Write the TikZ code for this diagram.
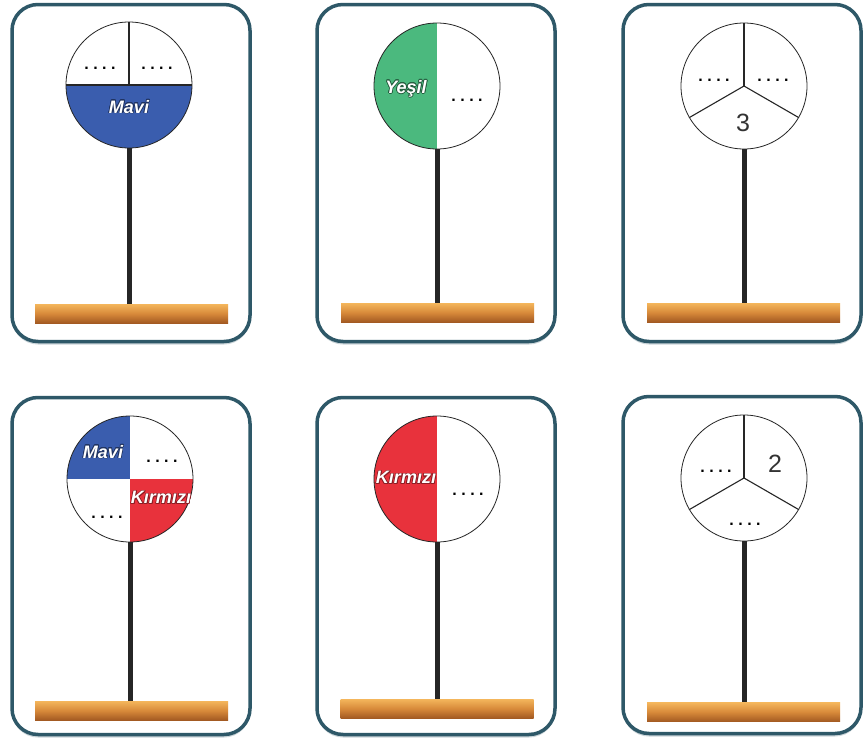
\documentclass[tikz,border=0pt]{standalone}
\usepackage{fontspec}
\setmainfont{Liberation Sans}
\usepackage{contour}
\contourlength{0.7pt}
\usetikzlibrary{shadows}

\definecolor{cardline}{HTML}{2E5868}
\definecolor{mavi}{HTML}{3A5DAE}
\definecolor{yesil}{HTML}{4BB97E}
\definecolor{kirmizi}{HTML}{E8323C}
\definecolor{woodtop}{HTML}{F4B65C}
\definecolor{woodmid}{HTML}{D88A3A}
\definecolor{woodbot}{HTML}{A35A22}

\newcommand{\blanks}{.\hspace{4.5pt}.\hspace{4.5pt}.\hspace{4.5pt}.}

\begin{document}
\begin{tikzpicture}[
    x=1pt, y=-1pt,
    card/.style={draw=cardline, line width=3.5pt, rounded corners=26pt, fill=white, minimum width=238pt, minimum height=337pt,
        drop shadow={shadow xshift=0pt, shadow yshift=-3pt, fill=cardline!25, opacity=1}},
    disc/.style={circle, draw=black!85, line width=0.8pt, fill=white, minimum size=126pt, inner sep=0pt},
    split/.style={draw=black!85, line width=1.1pt},
    pole/.style={draw=black!85, line width=5pt},
    stand/.style={rectangle, inner sep=0pt, minimum width=193pt, minimum height=19pt, top color=woodtop, bottom color=woodbot, middle color=woodmid},
    colour/.style={font=\bfseries\itshape\fontsize{18}{18}\selectfont, text=white, inner sep=0pt},
    blank/.style={font=\bfseries\fontsize{16}{16}\selectfont, anchor=base, inner sep=0pt},
    count/.style={font=\fontsize{25}{25}\selectfont, text=black!80, inner sep=0pt}
]
\fill[white] (0,0) rectangle (865,744);
\useasboundingbox (0,0) rectangle (865,744);

% --------------------------------------------------------------------------
% Cards
% --------------------------------------------------------------------------
\node[card] (card1) at (131,173) {};
\node[card] (card2) at (436,173) {};
\node[card] (card3) at (742,173) {};
\node[card] (card4) at (131,566) {};
\node[card] (card5) at (436,566) {};
\node[card] (card6) at (742,565) {};

% --------------------------------------------------------------------------
% Discs
% --------------------------------------------------------------------------
\node[disc, path picture={\fill[mavi] (path picture bounding box.west) rectangle (path picture bounding box.south east);}] (disc1) at (129,85) {};
\draw[split] (disc1.north) -- (disc1.center);
\draw[split] (disc1.west) -- (disc1.east);

\node[disc, path picture={\fill[yesil] (path picture bounding box.north west) rectangle (path picture bounding box.south);}] (disc2) at (437,86) {};

\node[disc] (disc3) at (744,86) {};
\draw[split] (disc3.center) -- (disc3.90);
\draw[split] (disc3.center) -- (disc3.210);
\draw[split] (disc3.center) -- (disc3.330);

\node[disc, path picture={
    \fill[mavi] (path picture bounding box.north west) rectangle (path picture bounding box.center);
    \fill[kirmizi] (path picture bounding box.center) rectangle (path picture bounding box.south east);}] (disc4) at (130,479) {};

\node[disc, path picture={\fill[kirmizi] (path picture bounding box.north west) rectangle (path picture bounding box.south);}] (disc5) at (437,479) {};

\node[disc] (disc6) at (744,478) {};
\draw[split] (disc6.center) -- (disc6.90);
\draw[split] (disc6.center) -- (disc6.210);
\draw[split] (disc6.center) -- (disc6.330);

% Texts on the discs
\node[blank] (b1a) at (100,69) {\blanks};
\node[blank] (b1b) at (157,69) {\blanks};
\node[colour] (c1) at (129,107) {\contour{mavi!55!black}{Mavi}};

\node[colour] (c2) at (406,89) {\contour{yesil!50!black}{Yeşil}};
\node[blank] (b2) at (467,101) {\blanks};

\node[blank] (b3a) at (714,81) {\blanks};
\node[blank] (b3b) at (773,81) {\blanks};
\node[count] (n3) at (743,123) {3};

\node[colour] (c4a) at (103,452) {\contour{mavi!55!black}{Mavi}};
\node[blank] (b4a) at (162,462) {\blanks};
\node[colour] (c4b) at (161,498) {\contour{kirmizi!60!black}{Kırmızı}};
\node[blank] (b4b) at (107,518) {\blanks};

\node[colour] (c5) at (406,478) {\contour{kirmizi!60!black}{Kırmızı}};
\node[blank] (b5) at (468,495) {\blanks};

\node[blank] (b6a) at (716,472) {\blanks};
\node[count] (n6) at (775,464) {2};
\node[blank] (b6b) at (745,525) {\blanks};

% --------------------------------------------------------------------------
% Stands
% --------------------------------------------------------------------------
\node[stand] (stand1) at (131.5,313.5) {};
\node[stand] (stand2) at (437.5,312.5) {};
\node[stand] (stand3) at (743.5,312.5) {};
\node[stand] (stand4) at (131.5,710.5) {};
\node[stand] (stand5) at (437,708.5) {};
\node[stand] (stand6) at (743.5,712) {};

\draw[pole] (disc1.south) -- (disc1.south |- stand1.north);
\draw[pole] (disc2.south) -- (disc2.south |- stand2.north);
\draw[pole] (disc3.south) -- (disc3.south |- stand3.north);
\draw[pole] (disc4.south) -- (disc4.south |- stand4.north);
\draw[pole] (disc5.south) -- (disc5.south |- stand5.north);
\draw[pole] (disc6.south) -- (disc6.south |- stand6.north);

\end{tikzpicture}
\end{document}
